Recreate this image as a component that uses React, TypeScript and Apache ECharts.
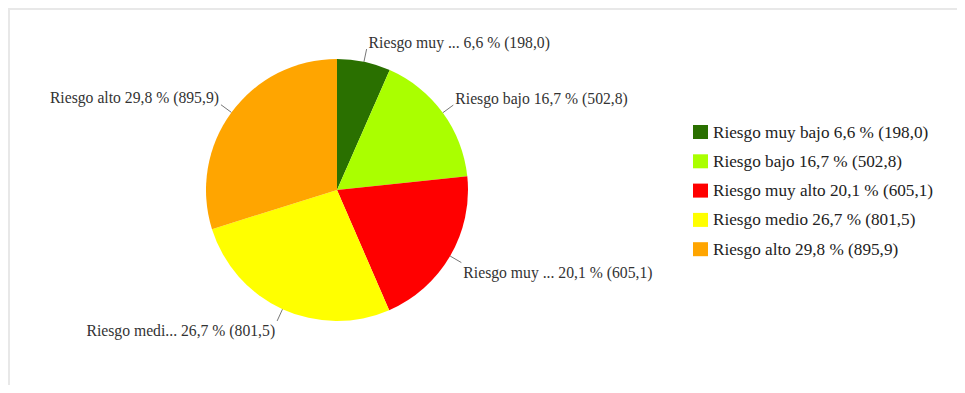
import React, { useEffect, useRef } from "react";
import * as echarts from "echarts";

const categories = ["Riesgo muy bajo", "Riesgo bajo", "Riesgo muy alto", "Riesgo medio", "Riesgo alto"];
const values = [198.0, 502.8, 605.1, 801.5, 895.9];
const colors = ["#2a7000", "#aaff00", "#ff0000", "#ffff00", "#ffa500"];

const total = values.reduce((a, b) => a + b, 0);
const fmt = (n: number) => n.toFixed(1).replace(".", ",");
const pct = (v: number) => fmt((v / total) * 100) + " %";
const shortName = (s: string) => (s.length > 11 ? s.slice(0, 11) + "..." : s);

export default function App() {
  const ref = useRef<HTMLDivElement>(null);
  useEffect(() => {
    if (!ref.current) return;
    const chart = echarts.init(ref.current, undefined, { renderer: "svg" });
    const data = categories.map((name, i) => ({
      name,
      value: values[i],
      itemStyle: { color: colors[i] },
    }));
    const cy = 180;
    chart.setOption({
      animation: false,
      textStyle: { fontFamily: "Liberation Serif" },
      legend: {
        orient: "vertical",
        left: 678,
        top: 108.5,
        padding: 5,
        itemWidth: 15,
        itemHeight: 14,
        itemGap: 12.3,
        icon: "rect",
        textStyle: { fontFamily: "Liberation Serif", fontSize: 17.2, color: "#222" },
        formatter: (name: string) => {
          const i = categories.indexOf(name);
          return `${name} ${pct(values[i])} (${fmt(values[i])})`;
        },
      },
      series: [
        {
          type: "pie",
          center: [327, cy],
          radius: [0, 131],
          startAngle: 90,
          clockwise: true,
          avoidLabelOverlap: false,
          data,
          label: {
            show: true,
            fontFamily: "Liberation Serif",
            fontSize: 15.7,
            color: "#333",
            distanceToLabelLine: 2,
            formatter: (p: any) => `${shortName(p.name)} ${pct(p.value)} (${fmt(p.value)})`,
          },
          labelLine: {
            show: true,
            length: 13,
            length2: 0,
            lineStyle: { color: "#777", width: 1 },
          },
          labelLayout: (p: any) => {
            const mid = p.labelRect.y + p.labelRect.height / 2;
            return { dy: mid < cy ? -7 : 10 };
          },
          emphasis: { disabled: true },
        },
      ],
    });
    return () => chart.dispose();
  }, []);
  return (
    <div
      style={{
        width: 949,
        height: 377,
        boxSizing: "border-box",
        borderTop: "2px solid #e8e8e8",
        borderLeft: "2px solid #e8e8e8",
        background: "#fff",
      }}
    >
      <div ref={ref} style={{ width: 947, height: 375 }} />
    </div>
  );
}
